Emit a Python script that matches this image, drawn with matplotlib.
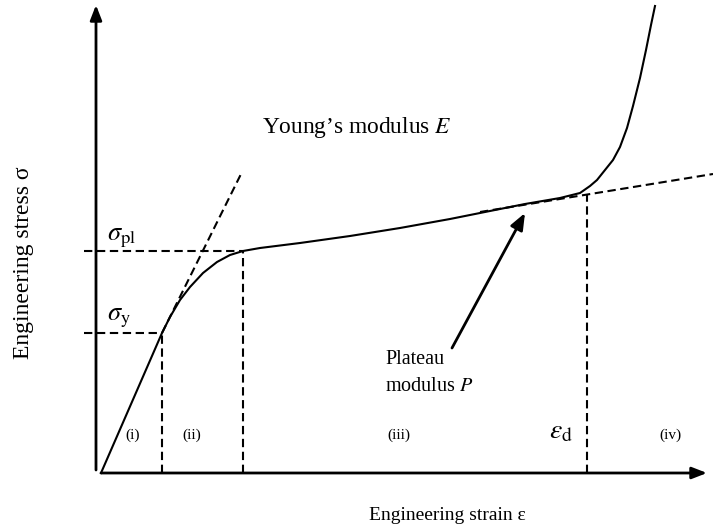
import numpy as np
import matplotlib
matplotlib.use("Agg")
import matplotlib.pyplot as plt

plt.rcParams['font.family'] = ['Liberation Serif', 'DejaVu Serif']
plt.rcParams['mathtext.fontset'] = 'stix'

# --- DATA (schematic stress-strain curve, arbitrary units) ---
strain = [0, 0.61, 0.69, 0.79, 0.89, 1.02, 1.16, 1.29, 1.42, 1.59, 1.99, 2.49,
          2.99, 3.49, 3.84, 4.24, 4.59, 4.79, 4.89, 4.96, 5.04, 5.12, 5.19,
          5.26, 5.32, 5.39, 5.45, 5.50, 5.54]
stress = [0, 1.40, 1.56, 1.73, 1.86, 2.00, 2.11, 2.18, 2.22, 2.25, 2.30, 2.37,
          2.45, 2.54, 2.61, 2.69, 2.75, 2.80, 2.87, 2.93, 3.03, 3.13, 3.26,
          3.45, 3.67, 3.95, 4.23, 4.48, 4.67]

eps_y, sig_y = 0.61, 1.40
eps_pl, sig_pl = 1.42, 2.22
eps_d, sig_d = 4.86, 2.78
young_x = [0.61, 1.41]
young_y = [1.40, 3.01]
plateau_x = [3.79, 6.12]
plateau_y = [2.61, 2.99]

region_labels = ["(i)", "(ii)", "(iii)", "(iv)"]
region_x = [0.32, 0.91, 2.98, 5.69]

# --- PLOT ---
fig = plt.figure(figsize=(7.13, 5.31), dpi=100)
ax = fig.add_axes([0, 0, 1, 1])
ax.set_xlim(-1.01, 6.12)
ax.set_ylim(-0.58, 4.73)
ax.axis('off')

dash = dict(color='black', lw=1.5, ls=(0, (4, 2.2)))

# axes arrows
arrow = dict(arrowstyle='-|>,head_length=0.9,head_width=0.35', color='black',
             lw=2, shrinkA=0, shrinkB=0)
ax.annotate('', xy=(-0.05, 4.68), xytext=(-0.05, 0.03), arrowprops=arrow)
ax.annotate('', xy=(6.06, 0), xytext=(0, 0), arrowprops=arrow)

# guide lines
ax.plot([-0.17, eps_y], [sig_y, sig_y], **dash)
ax.plot([eps_y, eps_y], [0, sig_y], **dash)
ax.plot([-0.17, eps_pl], [sig_pl, sig_pl], **dash)
ax.plot([eps_pl, eps_pl], [0, sig_pl], **dash)
ax.plot([eps_d, eps_d], [0, sig_d], **dash)
ax.plot(young_x, young_y, **dash)
ax.plot(plateau_x, plateau_y, **dash)

# curve
ax.plot(strain, stress, color='black', lw=1.5)

# labels
ax.text(1.61, 3.46, u"Young\u2019s modulus $E$", fontsize=16.8, va='center')
ax.text(0.06, 2.35, r"$\sigma_{\rm pl}$", fontsize=19, va='center')
ax.text(0.06, 1.55, r"$\sigma_{\rm y}$", fontsize=19, va='center')
ax.text(2.84, 1.00, "Plateau\nmodulus $P$", fontsize=14.5, ha='left',
        va='center', linespacing=1.55)
ax.annotate('', xy=(4.24, 2.60), xytext=(3.51, 1.25),
            arrowprops=dict(arrowstyle='-|>,head_length=1.0,head_width=0.4',
                            color='black', lw=2, shrinkA=0, shrinkB=0))
ax.text(4.48, 0.41, r"$\varepsilon_{\rm d}$", fontsize=20, va='center')
for lab, xr in zip(region_labels, region_x):
    ax.text(xr, 0.38, lab, fontsize=11, ha='center', va='center')

ax.text(3.46, -0.42, u"Engineering strain \u03b5", fontsize=14,
        ha='center', va='center')
ax.text(-0.77, 2.10, u"Engineering stress \u03c3", fontsize=17,
        ha='center', va='center', rotation=90)

fig.savefig("out.png", dpi=100)
